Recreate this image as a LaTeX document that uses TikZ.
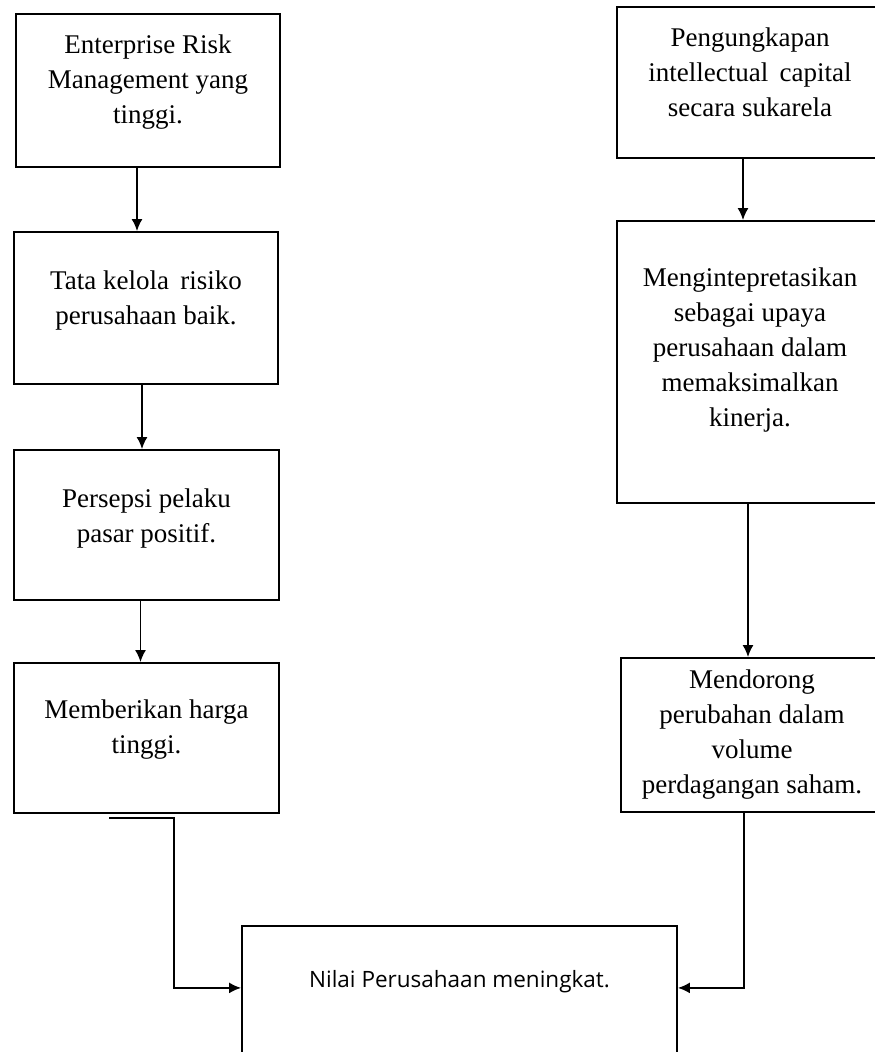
\documentclass[tikz,border=0pt]{standalone}
\usepackage{fontspec}
\setmainfont{Liberation Serif}
\newfontfamily\sansfont{Open Sans}
\usetikzlibrary{arrows.meta}

\tikzset{
  kotak/.style={draw,line width=1.8pt,align=center,inner sep=0pt,
    font=\fontsize{27}{35}\selectfont},
  naik/.style={text depth=#1},
  panah/.style={line width=1.8pt,-{Latex[length=12pt,width=11pt]}}
}

\begin{document}
\begin{tikzpicture}[x=1pt,y=-1pt]
  \useasboundingbox (0,0) rectangle (875,1052);
  \clip (0,0) rectangle (875,1052);

  % kolom kiri
  \node[kotak,naik=23pt,minimum width=264,minimum height=153] (erm) at (148,90.5)
    {Enterprise Risk\\Management yang\\tinggi.};
  \node[kotak,naik=20pt,minimum width=264,minimum height=152] (tata) at (146,308)
    {Tata kelola\, risiko\\perusahaan baik.};
  \node[kotak,naik=19pt,minimum width=265,minimum height=150] (persepsi) at (146.5,525)
    {Persepsi pelaku\\pasar positif.};
  \node[kotak,naik=22pt,minimum width=265,minimum height=150] (harga) at (146.5,738)
    {Memberikan harga\\tinggi.};

  % kolom kanan
  \node[kotak,naik=21pt,minimum width=266,minimum height=151] (ungkap) at (750,82.5)
    {Pengungkapan\\intellectual\, capital\\secara sukarela};
  \node[kotak,naik=30pt,minimum width=266,minimum height=282] (tafsir) at (750,362)
    {Mengintepretasikan\\sebagai upaya\\perusahaan dalam\\memaksimalkan\\kinerja.};
  \node[kotak,minimum width=262,minimum height=154] (dorong) at (752,735)
    {Mendorong\\perubahan dalam\\volume\\perdagangan saham.};

  % kotak bawah
  \node[draw,line width=1.8pt,inner sep=0pt,minimum width=435,anchor=north,
    text height=62pt,text depth=160pt,font=\sansfont\fontsize{22.5}{27}\selectfont]
    (nilai) at (459.5,925) {Nilai Perusahaan meningkat.};

  \draw[panah] ([xshift=-11]erm.south) -- ([xshift=-11]erm.south |- tata.north);
  \draw[panah] ([xshift=-4]tata.south) -- ([xshift=-4]tata.south |- persepsi.north);
  \draw[panah] ([xshift=-6]persepsi.south) -- ([xshift=-6]persepsi.south |- harga.north);

  \draw[panah] ([xshift=-7]ungkap.south) -- ([xshift=-7]ungkap.south |- tafsir.north);
  \draw[panah] ([xshift=-2]tafsir.south) -- ([xshift=-2]tafsir.south |- dorong.north);

  \coordinate (awal) at (109,818);
  \draw[panah] (awal) -- ++(65,0) |- (nilai.base west);
  \draw[panah] ([xshift=-8]dorong.south) |- (nilai.base east);
\end{tikzpicture}
\end{document}
